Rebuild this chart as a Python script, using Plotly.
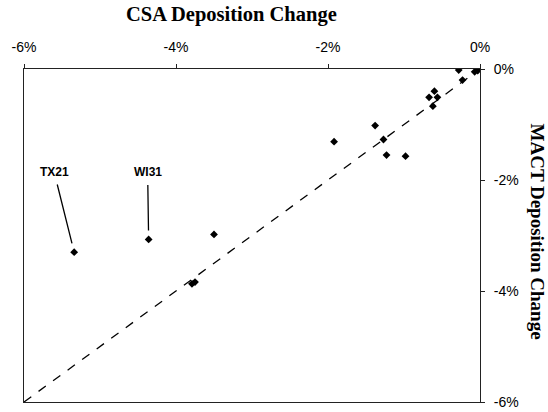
import plotly.graph_objects as go

# Data (percent change)
csa_change = [-5.34, -4.36, -3.50, -3.79, -3.75, -1.92, -1.38, -1.27, -1.23, -0.98,
              -0.67, -0.60, -0.56, -0.62, -0.23, -0.28, -0.07, -0.03]
mact_change = [-3.30, -3.07, -2.98, -3.87, -3.84, -1.31, -1.02, -1.27, -1.55, -1.57,
               -0.51, -0.40, -0.51, -0.67, -0.20, -0.02, -0.05, -0.03]
labels = {"TX21": 0, "WI31": 1}
tick_vals = [-6, -4, -2, 0]
tick_text = ["-6%", "-4%", "-2%", "0%"]
one_to_one = [-6, 0]

fig = go.Figure()
fig.add_trace(go.Scatter(x=one_to_one, y=one_to_one, mode="lines",
                         line=dict(color="black", width=1.3, dash="dash"),
                         hoverinfo="skip", showlegend=False))
fig.add_trace(go.Scatter(x=csa_change, y=mact_change, mode="markers",
                         marker=dict(symbol="diamond", size=6, color="black"),
                         showlegend=False))

# Labelled points
offsets = {"TX21": (-20, -80), "WI31": (-1, -67)}
for name, idx in labels.items():
    ax, ay = offsets[name]
    fig.add_annotation(x=csa_change[idx], y=mact_change[idx], xref="x", yref="y",
                       text="<b>" + name + "</b>", showarrow=True, arrowhead=0,
                       arrowwidth=1.3, arrowcolor="black", ax=ax, ay=ay,
                       standoff=9, startstandoff=4,
                       font=dict(family="Liberation Sans, Arial", size=12, color="black"))

fig.add_annotation(text="<b>CSA Deposition Change</b>", xref="paper", yref="paper",
                   x=0.455, y=1, yshift=55, showarrow=False, xanchor="center", yanchor="middle",
                   font=dict(family="Liberation Serif, Times New Roman", size=20.5, color="black"))
fig.add_annotation(text="<b>MACT Deposition Change</b>", xref="paper", yref="paper",
                   x=1, xshift=57, y=0.5, yshift=4, showarrow=False, textangle=90,
                   xanchor="center", yanchor="middle",
                   font=dict(family="Liberation Serif, Times New Roman", size=19, color="black"))

axis_common = dict(showgrid=False, zeroline=False, showline=True, linecolor="#222",
                   linewidth=1, mirror=True, tickvals=tick_vals, ticktext=tick_text,
                   range=[-6, 0], automargin=False,
                   tickfont=dict(family="Liberation Sans, Arial", size=14, color="black"),
                   tickcolor="#222")
fig.update_xaxes(side="top", ticks="outside", ticklen=4, ticklabelstandoff=6, **axis_common)
fig.update_yaxes(side="right", ticks="outside", ticklen=4, ticklabelstandoff=6, **axis_common)

fig.update_layout(width=548, height=412, margin=dict(l=24, r=68, t=69, b=10),
                  plot_bgcolor="white", paper_bgcolor="white")
fig.write_html("out.html", config={"displayModeBar": False},
               post_script="document.body.style.margin='0';document.body.style.overflow='hidden';")
